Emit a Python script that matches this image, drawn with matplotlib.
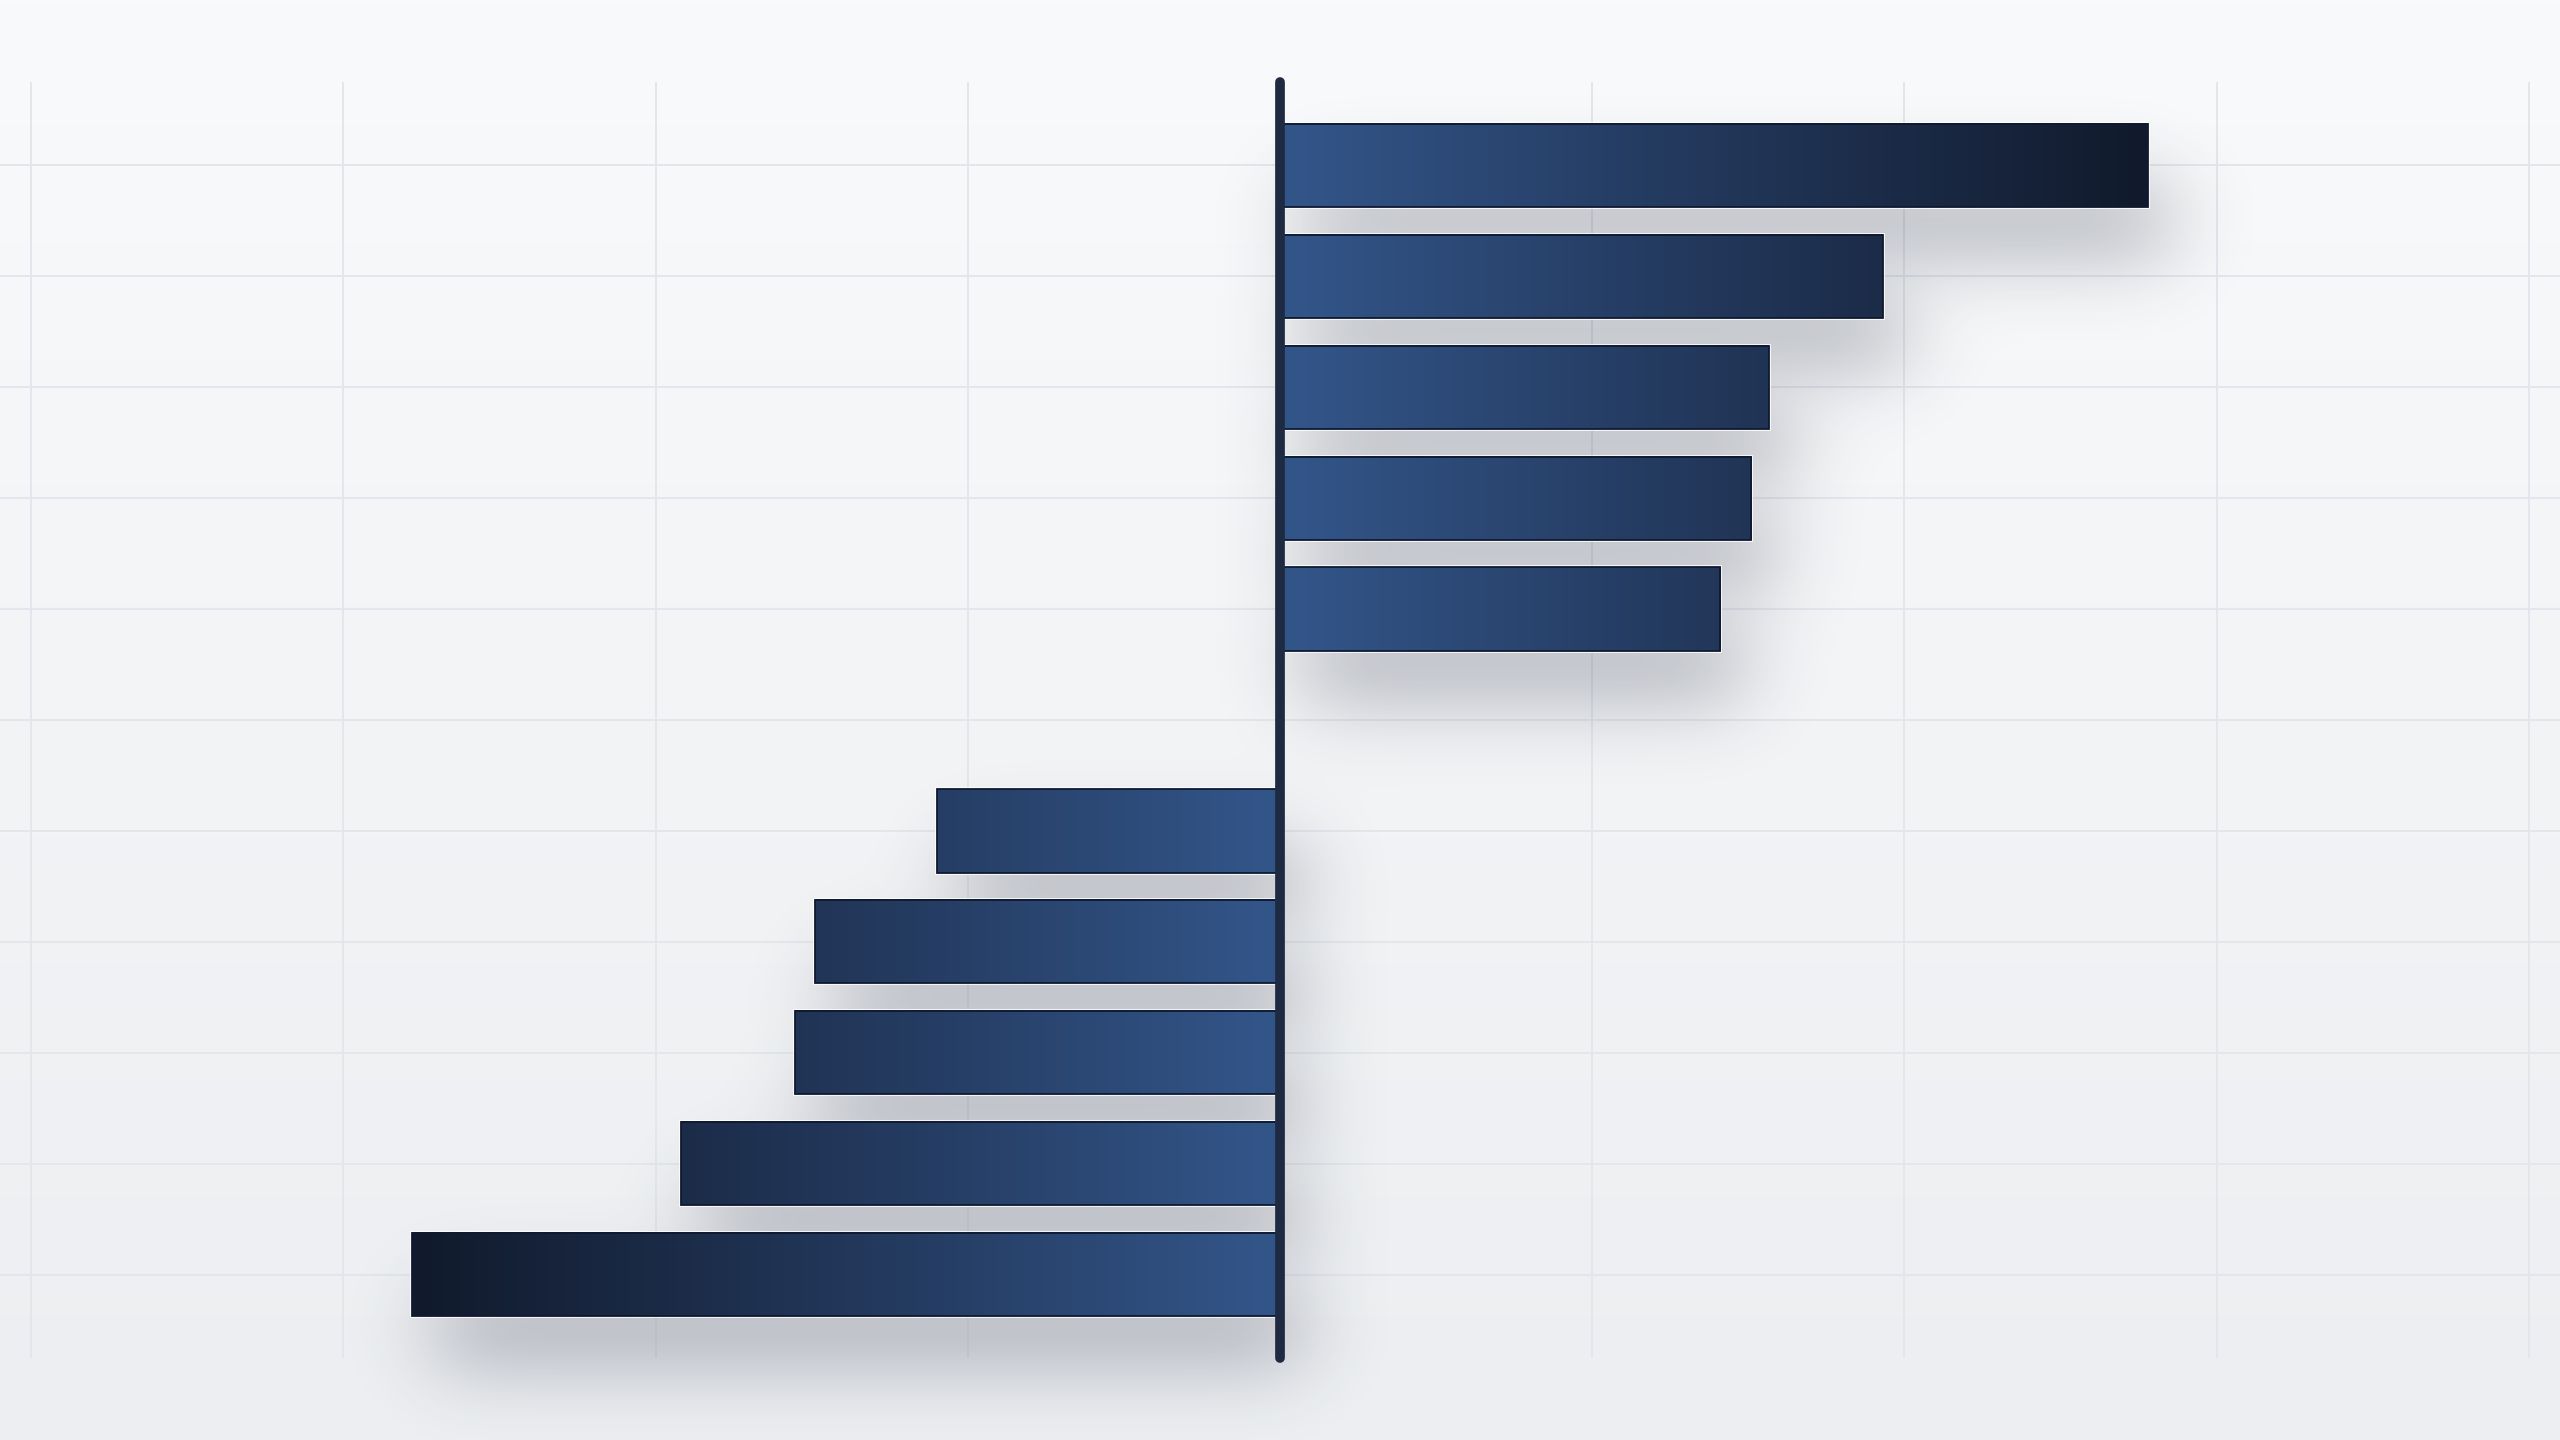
import math

import matplotlib
matplotlib.use("Agg")
import matplotlib.pyplot as plt
import numpy as np
from matplotlib.colors import LinearSegmentedColormap, to_rgb
from matplotlib.patches import Rectangle

# data (grid step = 10)
categories = ["A", "B", "C", "D", "E", "F", "G", "H", "I", "J", "K"]
values = [27.8, 19.3, 15.65, 15.1, 14.1, 0.0, -11.0, -14.9, -15.55, -19.2, -27.8]
grid_ticks = [-40, -30, -20, -10, 0, 10, 20, 30, 40]

BAR_H = 0.75
XLIM = (-41.0, 41.0)
YLIM = (len(categories) - 0.25, -0.75)
AX_BOTTOM, AX_HEIGHT = 0.057, 0.886

LIGHT = "#33568a"
DARK = "#111a2c"
LINE = "#1e2a42"
GRID = "#e2e5eb"

bar_cmap = LinearSegmentedColormap.from_list("bar", [LIGHT, "#22375a", DARK])
_erf = np.vectorize(math.erf)


def _blurred_box(t, a, b, s):
    k = s * math.sqrt(2)
    return 0.5 * (_erf((t - a) / k) - _erf((t - b) / k))


def _draw_background(bg, vals):
    # background axes spans the whole figure but shares the data coordinates
    span = YLIM[0] - YLIM[1]
    per = span / AX_HEIGHT
    y_bot = YLIM[0] + AX_BOTTOM * per
    y_top = YLIM[1] - (1 - AX_BOTTOM - AX_HEIGHT) * per
    ext = (XLIM[0], XLIM[1], y_bot, y_top)

    grad = np.linspace(0, 1, 256)[:, None]
    bg_cmap = LinearSegmentedColormap.from_list("bg", ["#f9fafb", "#f3f4f6", "#eceef1"])
    bg.imshow(grad, cmap=bg_cmap, aspect="auto", extent=ext, zorder=0)

    # grid sits under the shadow
    bg.vlines(grid_ticks, YLIM[1], YLIM[0], colors=GRID, linewidth=1.3, zorder=0.5)
    bg.hlines(range(len(categories)), XLIM[0], XLIM[1], colors=GRID, linewidth=1.3, zorder=0.5)

    xs = np.linspace(ext[0], ext[1], 1280)
    ys = np.linspace(ext[3], ext[2], 720)
    dx, dy = 0.7, 0.48
    sx, sy = 1.3, 0.33
    keep = np.ones((len(ys), len(xs)))
    for i, v in enumerate(vals):
        if v == 0:
            continue
        lo, hi = sorted((0.0, v))
        mx = _blurred_box(xs, lo + dx, hi + dx, sx)
        my = _blurred_box(ys, i - BAR_H / 2 + dy, i + BAR_H / 2 + dy, sy)
        keep *= 1 - np.outer(my, mx)
    shade = 1 - keep
    rgba = np.zeros((len(ys), len(xs), 4))
    rgba[..., :3] = to_rgb("#2a3246")
    rgba[..., 3] = shade * 0.3
    bg.imshow(rgba, extent=ext, aspect="auto", interpolation="bilinear", zorder=1)

    bg.set_xlim(ext[0], ext[1])
    bg.set_ylim(ext[2], ext[3])
    bg.set_axis_off()


def main() -> None:
    fig = plt.figure(figsize=(25.6, 14.4), dpi=100)

    bg = fig.add_axes([0, 0, 1, 1], zorder=-1)
    ax = fig.add_axes([0, AX_BOTTOM, 1, AX_HEIGHT], zorder=0)
    ax.patch.set_alpha(0)

    vmax = max(abs(v) for v in values)
    for i, v in enumerate(values):
        if v == 0:
            continue
        top, bottom = i - BAR_H / 2, i + BAR_H / 2
        lo, hi = sorted((0.0, v))
        # thin white halo behind the bar
        ax.add_patch(Rectangle((lo, top), hi - lo, BAR_H, facecolor="white",
                               edgecolor="white", linewidth=2.6, zorder=2.5))
        t = np.linspace(0, abs(v) / vmax, 256)[None, :]
        if v < 0:
            t = t[:, ::-1]
        ax.imshow(t, cmap=bar_cmap, vmin=0, vmax=1, aspect="auto",
                  extent=(lo, hi, bottom, top), interpolation="bilinear", zorder=3)
        ax.add_patch(Rectangle((lo, top), hi - lo, BAR_H, facecolor="none",
                               edgecolor="#0f1930", linewidth=1.3, zorder=4))

    ax.plot([0, 0], [YLIM[0], YLIM[1]], color=LINE, linewidth=7,
            solid_capstyle="round", clip_on=False, zorder=5)

    ax.set_xticks([])
    ax.set_yticks([])
    for s in ax.spines.values():
        s.set_visible(False)
    ax.set_xlim(*XLIM)
    ax.set_ylim(*YLIM)

    _draw_background(bg, values)

    fig.savefig("out.png", dpi=100)
    plt.close(fig)


if __name__ == "__main__":
    main()
